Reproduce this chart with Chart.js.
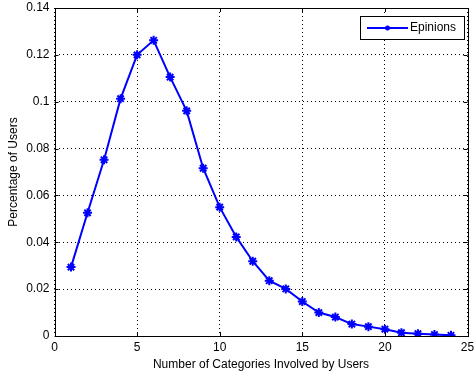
<!DOCTYPE html>
<html>
<head>
<meta charset="utf-8">
<script src="https://cdn.jsdelivr.net/npm/chart.js@4/dist/chart.umd.min.js"></script>
<style>
  html, body { margin: 0; padding: 0; background: #fff; }
  #wrap { width: 474px; height: 372px; position: relative; }
</style>
</head>
<body>
<div id="wrap"><canvas id="chart"></canvas></div>
<script>
// categories involved (x) and share of users (y)
var categories = [1, 2, 3, 4, 5, 6, 7, 8, 9, 10, 11, 12, 13, 14, 15, 16, 17, 18, 19, 20, 21, 22, 23, 24];
var epinions = [0.0294, 0.0526, 0.0752, 0.1013, 0.1200, 0.1262, 0.1105, 0.0961, 0.0716, 0.0550, 0.0423, 0.0319,
  0.0236, 0.0201, 0.0147, 0.0100, 0.0081, 0.0051, 0.0040, 0.0029, 0.0014, 0.0010, 0.0006, 0.0003];
var seriesName = 'Epinions';
var xTicks = [0, 5, 10, 15, 20, 25];
var yTicks = [0, 0.02, 0.04, 0.06, 0.08, 0.1, 0.12, 0.14];

var FONT = '"Liberation Sans", Arial, sans-serif';
var BLUE = '#0000ff';

// box around the axes + small inner ticks, matlab style
var boxPlugin = {
  id: 'box',
  afterDraw: function(chart) {
    var ctx = chart.ctx, a = chart.chartArea;
    var xs = chart.scales.x, ys = chart.scales.y;
    ctx.save();
    ctx.strokeStyle = '#000';
    ctx.lineWidth = 1;
    ctx.strokeRect(Math.round(a.left) + 0.5, Math.round(a.top) + 0.5, Math.round(a.right - a.left), Math.round(a.bottom - a.top));
    ctx.beginPath();
    xTicks.forEach(function(v) {
      var px = Math.round(xs.getPixelForValue(v)) + 0.5;
      ctx.moveTo(px, a.bottom); ctx.lineTo(px, a.bottom - 4);
      ctx.moveTo(px, a.top); ctx.lineTo(px, a.top + 4);
    });
    yTicks.forEach(function(v) {
      var py = Math.round(ys.getPixelForValue(v)) + 0.5;
      ctx.moveTo(a.left, py); ctx.lineTo(a.left + 4, py);
      ctx.moveTo(a.right, py); ctx.lineTo(a.right - 4, py);
    });
    ctx.stroke();
    ctx.restore();
  }
};

// legend box in the top right corner
var legendPlugin = {
  id: 'boxLegend',
  afterDraw: function(chart) {
    var ctx = chart.ctx, a = chart.chartArea;
    var w = 104, h = 23;
    var x = Math.round(a.right) - 4 - w, y = Math.round(a.top) + 8;
    ctx.save();
    ctx.fillStyle = '#fff';
    ctx.fillRect(x, y, w, h);
    ctx.strokeStyle = '#000';
    ctx.lineWidth = 1;
    ctx.strokeRect(x + 0.5, y + 0.5, w, h);
    var cy = y + h / 2 + 0.5;
    ctx.strokeStyle = BLUE;
    ctx.lineWidth = 2;
    ctx.beginPath();
    ctx.moveTo(x + 7, cy); ctx.lineTo(x + 48, cy);
    ctx.stroke();
    ctx.fillStyle = BLUE;
    ctx.beginPath();
    ctx.arc(x + 27.5, cy, 2.5, 0, Math.PI * 2);
    ctx.fill();
    ctx.fillStyle = '#000';
    ctx.font = '12px ' + FONT;
    ctx.textBaseline = 'middle';
    ctx.fillText(seriesName, x + 50, cy);
    ctx.restore();
  }
};

new Chart(document.getElementById('chart').getContext('2d'), {
  type: 'line',
  data: {
    datasets: [{
      label: seriesName,
      data: categories.map(function(c, i) { return { x: c, y: epinions[i] }; }),
      borderColor: BLUE,
      backgroundColor: BLUE,
      borderWidth: 2,
      pointStyle: 'star',
      pointRadius: 4.5,
      pointBorderWidth: 2,
      pointBorderColor: BLUE,
      tension: 0
    }]
  },
  options: {
    responsive: true, maintainAspectRatio: false,
    animation: false,
    layout: { padding: { left: 0, right: 4, top: 8, bottom: 0 } },
    plugins: { legend: { display: false }, tooltip: { enabled: false } },
    scales: {
      x: {
        type: 'linear', min: 0, max: 25,
        afterBuildTicks: function(s) { s.ticks = xTicks.map(function(v) { return { value: v }; }); },
        afterFit: function(s) { s.height = 36; s.paddingLeft = 0; s.paddingRight = 0; },
        grid: { color: '#000', lineWidth: 1, drawTicks: false },
        border: { display: false, dash: [1, 3] },
        ticks: { color: '#000', padding: 4, maxRotation: 0, font: { family: FONT, size: 12 } },
        title: { display: true, text: 'Number of Categories Involved by Users', color: '#000', padding: { top: 1, bottom: 0 }, font: { family: FONT, size: 12 } }
      },
      y: {
        type: 'linear', min: 0, max: 0.14,
        afterBuildTicks: function(s) { s.ticks = yTicks.map(function(v) { return { value: v }; }); },
        afterFit: function(s) { s.width = 54.5; s.paddingTop = 0; s.paddingBottom = 0; },
        grid: { color: '#000', lineWidth: 1, drawTicks: false },
        border: { display: false, dash: [1, 3] },
        ticks: { color: '#000', padding: 5, font: { family: FONT, size: 12 },
          callback: function(v) { return String(Math.round(v * 100) / 100); } },
        title: { display: true, text: 'Percentage of Users', color: '#000', padding: { top: 6, bottom: 2 }, font: { family: FONT, size: 12 } }
      }
    }
  },
  plugins: [boxPlugin, legendPlugin]
});
</script>
</body>
</html>
